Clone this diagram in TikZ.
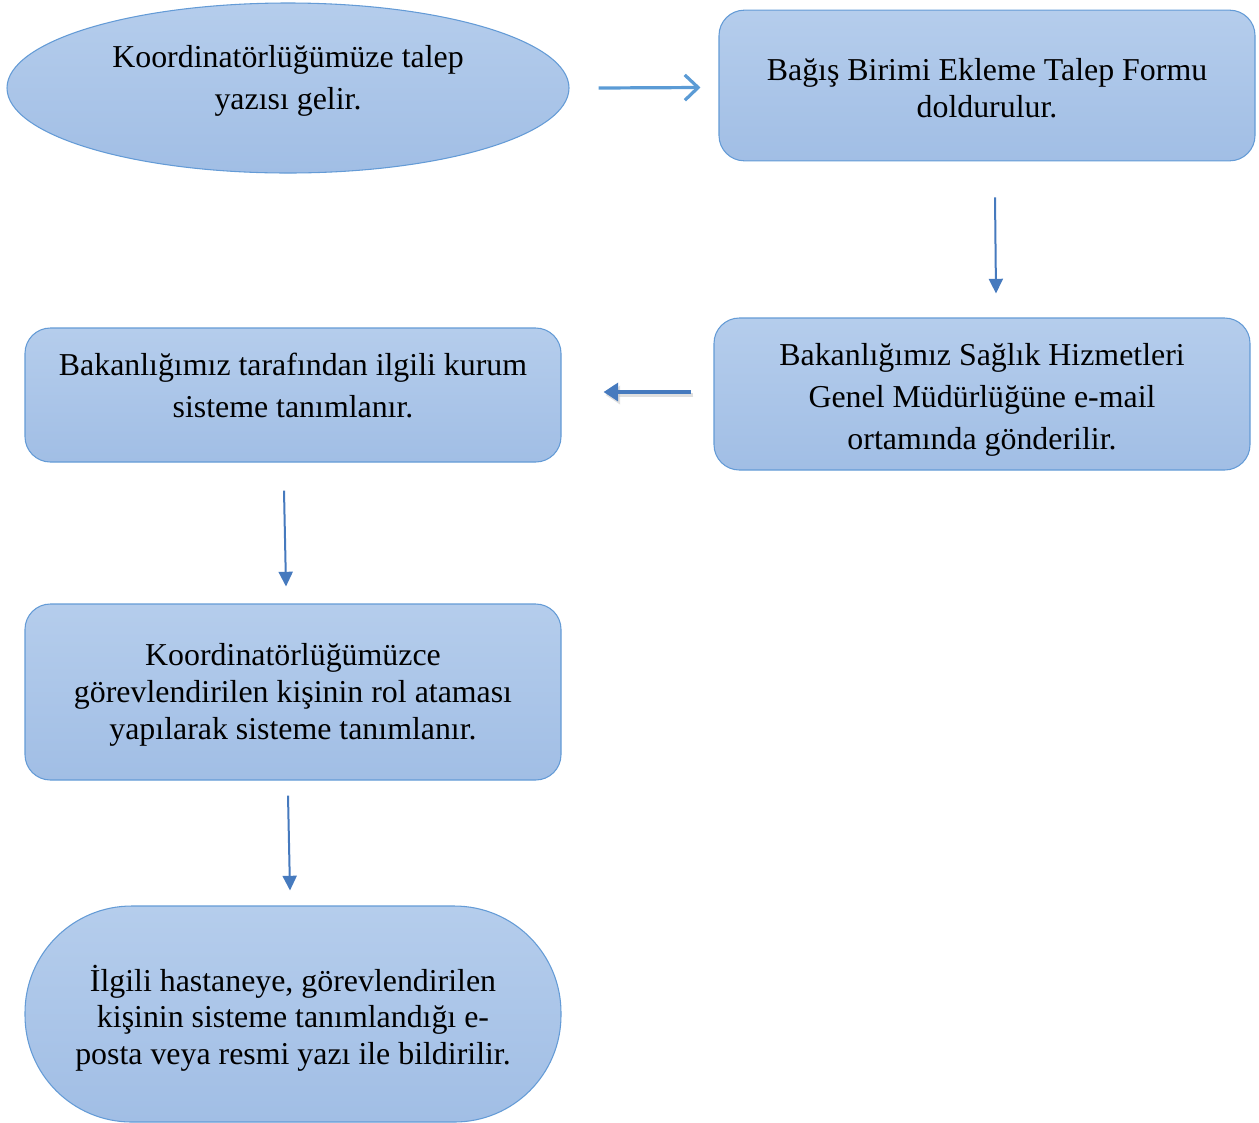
\documentclass[tikz,border=0pt]{standalone}
\usepackage{fontspec}
\setmainfont{Liberation Serif}
\usetikzlibrary{shapes.geometric,arrows.meta,calc}
\definecolor{boxtop}{RGB}{181,205,236}
\definecolor{boxbot}{RGB}{161,190,229}
\definecolor{boxline}{RGB}{100,155,214}
\definecolor{arrlight}{RGB}{91,155,213}
\definecolor{arrdark}{RGB}{70,122,190}
\tikzset{
  shapebase/.style={draw=boxline, line width=0.8pt, top color=boxtop, bottom color=boxbot, inner sep=0pt},
  roundbox/.style={shapebase, rectangle, rounded corners=19pt, minimum width=402pt, minimum height=#1},
  txt/.style={align=center, inner sep=0pt},
  thinarrow/.style={draw=arrdark, line width=1.5pt, -{Triangle[length=11pt,width=10.5pt]}},
  openarrow/.style={draw=arrlight, line width=2.4pt, -{Straight Barb[length=10pt,width=19pt,line width=2.4pt]}},
  thickarrow/.style={draw=arrdark, line width=3.4pt, -{Triangle[length=11pt,width=13.5pt]}}
}
\begin{document}
\begin{tikzpicture}[x=0.75pt,y=-0.75pt]
\useasboundingbox (0,0) rectangle (1259,1122);

% flow shapes
\node[shapebase, ellipse, minimum width=421.5pt, minimum height=127.5pt] (start) at (288,88) {};
\node[roundbox=113pt] (form) at (987,85.5) {};
\node[roundbox=114pt] (email) at (982,394) {};
\node[roundbox=100.5pt] (tanim) at (293,395) {};
\node[roundbox=132pt] (rol) at (293,692) {};
\node[shapebase, rectangle, rounded corners=80pt, minimum width=402pt, minimum height=162pt] (bildir) at (293,1014) {};

% texts
\node[txt, font=\fontsize{23.9}{31.5}\selectfont] (tstart) at ($(start)+(0,-7)$) {Koordinatörlüğümüze talep\\yazısı gelir.};
\node[txt, font=\fontsize{23.9}{28}\selectfont] (tform) at ($(form)+(0,2.5)$) {Bağış Birimi Ekleme Talep Formu\\doldurulur.};
\node[txt, font=\fontsize{23.9}{31.5}\selectfont] (temail) at ($(email)+(0,6)$) {Bakanlığımız Sağlık Hizmetleri\\Genel Müdürlüğüne e-mail\\ortamında gönderilir.};
\node[txt, font=\fontsize{23.9}{31.5}\selectfont] (ttanim) at ($(tanim)+(0,-10)$) {Bakanlığımız tarafından ilgili kurum\\sisteme tanımlanır.};
\node[txt, font=\fontsize{23.9}{27.5}\selectfont] (trol) at ($(rol)+(0,3)$) {Koordinatörlüğümüzce\\görevlendirilen kişinin rol ataması\\yapılarak sisteme tanımlanır.};
\node[txt, font=\fontsize{23.9}{27.5}\selectfont] (tbildir) at ($(bildir)+(0,4)$) {İlgili hastaneye, görevlendirilen\\kişinin sisteme tanımlandığı e-\\posta veya resmi yazı ile bildirilir.};

% connectors
\draw[openarrow] ($(start.east)+(29,0)$) -- ($(form.west)+(-18,2)$);
\draw[thinarrow] ($(form.south)+(8,36)$) -- ($(email.north)+(14,-24)$);
\draw[draw=black!25, line width=3.4pt, -{Triangle[length=11pt,width=13.5pt]}, opacity=0.5]
  ($(email.west)+(-20,1)$) -- ($(tanim.east)+(44,0)$);
\draw[thickarrow] ($(email.west)+(-22,-2)$) -- ($(tanim.east)+(42,-3)$);
\draw[thinarrow] ($(tanim.south)+(-9,28)$) -- ($(rol.north)+(-7,-17)$);
\draw[thinarrow] ($(rol.south)+(-5,15)$) -- ($(bildir.north)+(-3,-15)$);
\end{tikzpicture}
\end{document}
